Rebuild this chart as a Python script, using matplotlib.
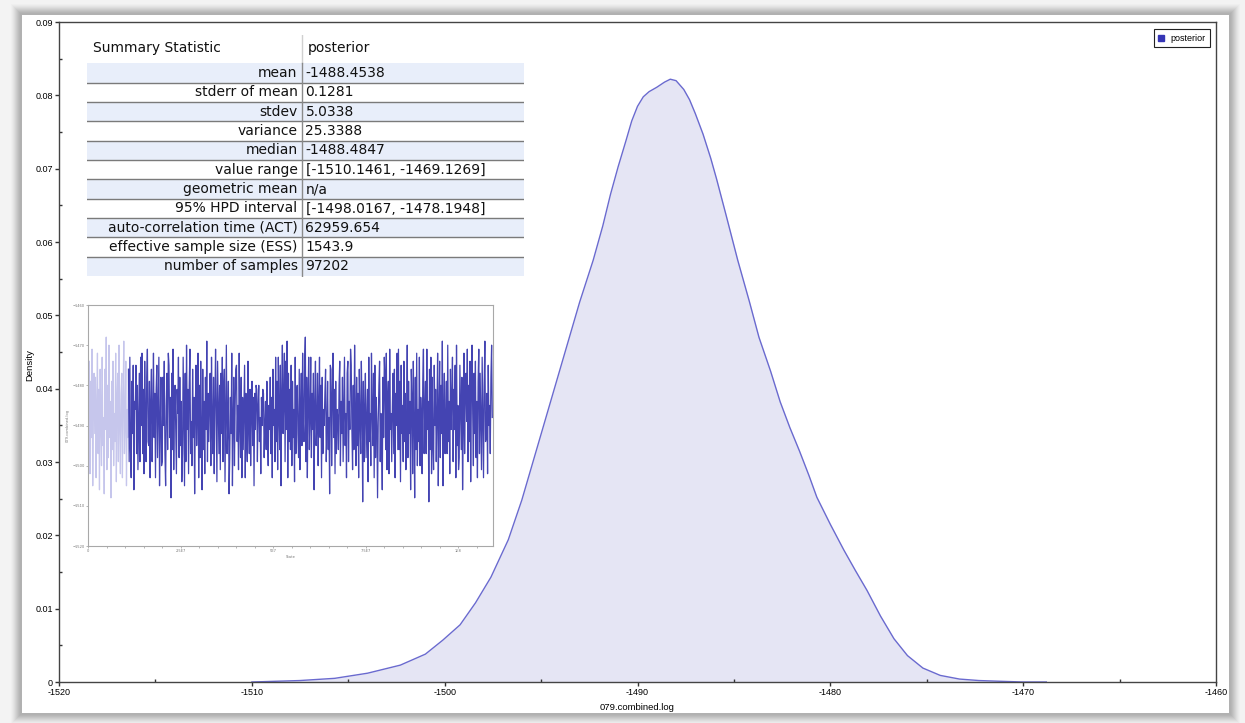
import numpy as np
import matplotlib
matplotlib.use("Agg")
import matplotlib.pyplot as plt
from matplotlib.patches import Rectangle
from matplotlib.ticker import MultipleLocator, FuncFormatter

W, H = 1245, 723

# Kernel density of the posterior (value, density)
density_x = [-1510.0, -1507.5, -1505.7, -1504.0, -1502.3, -1501.0, -1500.1, -1499.2,
             -1498.4, -1497.6, -1496.7, -1496.0, -1495.0, -1494.0, -1493.0, -1492.3,
             -1491.8, -1491.4, -1491.0, -1490.6, -1490.3, -1490.0, -1489.7, -1489.4,
             -1489.0, -1488.6, -1488.3, -1488.0, -1487.6, -1487.3, -1487.0, -1486.6,
             -1486.2, -1485.9, -1485.4, -1484.8, -1484.2, -1483.7, -1483.1, -1482.6,
             -1482.1, -1481.6, -1481.1, -1480.7, -1480.0, -1479.3, -1478.7, -1478.1,
             -1477.4, -1476.7, -1476.0, -1475.2, -1474.3, -1473.3, -1472.3, -1471.2,
             -1470.0, -1468.8]
density_y = [0.0000, 0.0002, 0.0005, 0.0012, 0.0023, 0.0038, 0.0057, 0.0078,
             0.0108, 0.0143, 0.0194, 0.0248, 0.0338, 0.0428, 0.0518, 0.0575,
             0.0622, 0.0665, 0.0703, 0.0738, 0.0765, 0.0785, 0.0798, 0.0805,
             0.0811, 0.0818, 0.0822, 0.0820, 0.0808, 0.0794, 0.0775, 0.0747,
             0.0714, 0.0686, 0.0636, 0.0575, 0.0519, 0.0470, 0.0424, 0.0382,
             0.0347, 0.0315, 0.0281, 0.0252, 0.0215, 0.0180, 0.0152, 0.0125,
             0.0090, 0.0059, 0.0036, 0.0019, 0.0009, 0.0004, 0.0002, 0.0001,
             0.0000, 0.0000]

# Summary statistics table
stat_names = ["mean", "stderr of mean", "stdev", "variance", "median", "value range",
              "geometric mean", "95% HPD interval", "auto-correlation time (ACT)",
              "effective sample size (ESS)", "number of samples"]
stat_values = ["-1488.4538", "0.1281", "5.0338", "25.3388", "-1488.4847",
               "[-1510.1461, -1469.1269]", "n/a", "[-1498.0167, -1478.1948]",
               "62959.654", "1543.9", "97202"]

# Trace of the log posterior: burn-in samples, then the retained chain
burnin_values = [
    -1483, -1499, -1474, -1502, -1479, -1493, -1471, -1505, -1486, -1477,
    -1492, -1478, -1503, -1485, -1472, -1497, -1481, -1506, -1476, -1489,
    -1500, -1473, -1495, -1488, -1507, -1476, -1491, -1468, -1501, -1480,
    -1498, -1470, -1493, -1484, -1508, -1479, -1496, -1474, -1500, -1487,
    -1494, -1472, -1504, -1483, -1477, -1499, -1470, -1490, -1502, -1482,
    -1477, -1503, -1484, -1469, -1497, -1489, -1474, -1505, -1486, -1493]
trace_values = [
    -1476, -1499, -1473, -1496, -1503, -1479, -1492, -1475, -1506, -1484,
    -1486, -1475, -1497, -1480, -1501, -1489, -1477, -1499, -1473, -1490,
    -1472, -1497, -1481, -1502, -1474, -1488, -1499, -1478, -1471, -1494,
    -1495, -1479, -1503, -1484, -1476, -1499, -1487, -1472, -1493, -1482,
    -1503, -1481, -1475, -1498, -1486, -1473, -1505, -1490, -1478, -1500,
    -1499, -1478, -1490, -1474, -1497, -1505, -1485, -1477, -1496, -1472,
    -1475, -1493, -1483, -1508, -1477, -1496, -1471, -1501, -1485, -1480,
    -1491, -1502, -1481, -1487, -1473, -1498, -1478, -1495, -1484, -1504,
    -1497, -1473, -1489, -1505, -1477, -1499, -1470, -1491, -1481, -1502,
    -1480, -1471, -1497, -1489, -1500, -1476, -1493, -1483, -1507, -1487,
    -1475, -1495, -1486, -1472, -1503, -1480, -1498, -1474, -1493, -1506,
    -1476, -1496, -1484, -1502, -1478, -1491, -1469, -1499, -1482, -1494,
    -1483, -1477, -1500, -1473, -1489, -1497, -1478, -1502, -1485, -1471,
    -1488, -1504, -1474, -1486, -1497, -1480, -1501, -1477, -1492, -1473,
    -1499, -1481, -1476, -1504, -1488, -1470, -1497, -1491, -1479, -1507,
    -1498, -1483, -1492, -1472, -1505, -1489, -1478, -1500, -1485, -1476,
    -1475, -1494, -1485, -1501, -1472, -1490, -1498, -1478, -1503, -1483,
    -1496, -1486, -1475, -1503, -1482, -1492, -1499, -1474, -1490, -1497,
    -1481, -1500, -1487, -1479, -1495, -1483, -1505, -1482, -1491, -1480,
    -1481, -1499, -1485, -1480, -1494, -1488, -1502, -1483, -1490, -1481,
    -1482, -1498, -1490, -1484, -1496, -1479, -1493, -1500, -1485, -1491,
    -1478, -1497, -1483, -1503, -1476, -1490, -1486, -1499, -1473, -1494,
    -1479, -1501, -1473, -1488, -1496, -1475, -1505, -1482, -1470, -1492,
    -1484, -1472, -1499, -1474, -1491, -1469, -1503, -1477, -1494, -1481,
    -1496, -1475, -1500, -1479, -1493, -1486, -1504, -1473, -1497, -1482,
    -1480, -1492, -1498, -1476, -1501, -1486, -1477, -1495, -1472, -1489,
    -1494, -1474, -1468, -1499, -1478, -1503, -1484, -1473, -1496, -1488,
    -1473, -1498, -1482, -1491, -1477, -1506, -1485, -1474, -1495, -1490,
    -1477, -1500, -1484, -1473, -1493, -1480, -1503, -1478, -1497, -1486,
    -1490, -1482, -1476, -1499, -1491, -1479, -1496, -1488, -1507, -1475,
    -1476, -1500, -1483, -1472, -1493, -1481, -1502, -1479, -1497, -1486,
    -1488, -1496, -1480, -1474, -1500, -1484, -1492, -1478, -1499, -1485,
    -1473, -1495, -1487, -1503, -1477, -1474, -1499, -1484, -1491, -1471,
    -1475, -1491, -1501, -1480, -1496, -1470, -1487, -1500, -1478, -1495,
    -1482, -1503, -1476, -1489, -1497, -1474, -1486, -1509, -1479, -1499,
    -1486, -1477, -1498, -1490, -1481, -1504, -1473, -1494, -1487, -1500,
    -1472, -1486, -1495, -1477, -1503, -1475, -1498, -1483, -1490, -1508,
    -1489, -1480, -1474, -1499, -1487, -1494, -1506, -1478, -1493, -1473,
    -1478, -1496, -1472, -1501, -1484, -1479, -1502, -1471, -1491, -1487,
    -1499, -1485, -1477, -1497, -1476, -1503, -1482, -1490, -1472, -1496,
    -1471, -1496, -1479, -1504, -1475, -1492, -1485, -1499, -1474, -1494,
    -1482, -1501, -1488, -1470, -1498, -1479, -1492, -1484, -1506, -1476,
    -1483, -1502, -1474, -1489, -1508, -1478, -1496, -1472, -1500, -1486,
    -1494, -1473, -1500, -1483, -1489, -1502, -1479, -1471, -1497, -1486,
    -1479, -1497, -1471, -1491, -1484, -1509, -1476, -1496, -1473, -1502,
    -1478, -1495, -1501, -1475, -1490, -1481, -1499, -1487, -1472, -1505,
    -1486, -1474, -1498, -1480, -1492, -1469, -1505, -1487, -1477, -1497,
    -1489, -1479, -1497, -1470, -1494, -1484, -1502, -1476, -1491, -1483,
    -1473, -1499, -1481, -1491, -1475, -1503, -1470, -1495, -1485, -1501,
    -1498, -1475, -1486, -1496, -1478, -1506, -1491, -1472, -1497, -1481,
    -1477, -1489, -1471, -1499, -1480, -1494, -1474, -1504, -1483, -1470,
    -1487, -1500, -1477, -1492, -1474, -1498, -1484, -1503, -1479, -1471,
    -1497, -1477, -1490, -1501, -1473, -1487, -1503, -1480, -1469, -1494,
    -1493, -1482, -1502, -1475, -1490, -1485, -1497, -1478, -1470, -1488]
state_step = 1.822e5

trace_xticks = [0, 2.5e7, 5e7, 7.5e7, 1e8]
trace_xticklabels = ["0", "2.5E7", "5E7", "7.5E7", "1E8"]

TICK_FONT = "Liberation Sans"
TABLE_FONT = "DejaVu Sans"

fig = plt.figure(figsize=(W / 100, H / 100), dpi=100)
fig.patch.set_facecolor("#f3f3f3")


def px_rect(x0, y0, x1, y1, **kw):
    return Rectangle((x0 / W, 1 - y1 / H), (x1 - x0) / W, (y1 - y0) / H,
                     transform=fig.transFigure, zorder=-10, **kw)


# window drop shadow and white panel
panel = (22, 15, 1229, 713)
shadow = ["#efefef", "#eaeaea", "#e4e4e4", "#dddddd", "#d5d5d5", "#cdcdcd",
          "#c5c5c5", "#bdbdbd", "#b6b6b6", "#b1b1b1"]
for i, c in enumerate(shadow):
    pad = len(shadow) - i + 1
    fig.patches.append(px_rect(panel[0] - pad, panel[1] - pad, panel[2] + pad,
                               panel[3] + pad, facecolor=c, edgecolor="none"))
fig.patches.append(px_rect(*panel, facecolor="white", edgecolor="none"))

# ---- main density plot ----
ax = fig.add_axes([59 / W, 1 - 682 / H, (1216 - 59) / W, (682 - 22) / H])
ax.set_facecolor("white")
ax.fill_between(density_x, density_y, 0, color="#e5e5f4", lw=0)
ax.plot(density_x, density_y, color="#6a6acf", lw=1.0)
ax.set_xlim(-1520, -1460)
ax.set_ylim(0, 0.09)
ax.xaxis.set_major_locator(MultipleLocator(10))
ax.xaxis.set_minor_locator(MultipleLocator(5))
ax.yaxis.set_major_locator(MultipleLocator(0.01))
ax.yaxis.set_minor_locator(MultipleLocator(0.005))
ax.xaxis.set_major_formatter(FuncFormatter(lambda v, p: f"{v:.0f}"))
ax.yaxis.set_major_formatter(FuncFormatter(lambda v, p: "0" if abs(v) < 1e-9 else f"{v:.2f}"))
ax.tick_params(which="major", direction="out", length=3, width=1, color="#333333",
               labelsize=6.5, pad=1.5)
ax.tick_params(which="minor", direction="in", length=2, width=1, color="#333333")
for lbl in ax.get_xticklabels() + ax.get_yticklabels():
    lbl.set_fontfamily(TICK_FONT)
for s in ax.spines.values():
    s.set_color("#444444")
    s.set_linewidth(1)

fig.text(637 / W, 1 - 707 / H, "079.combined.log", ha="center", va="center",
         fontsize=6.8, family=TICK_FONT)
fig.text(30 / W, 1 - 365 / H, "Density", ha="center", va="center", rotation=90,
         fontsize=6.8, family=TICK_FONT)

leg = ax.legend(handles=[Rectangle((0, 0), 1, 1, color="#3535b5")], labels=["posterior"],
                loc="upper right", bbox_to_anchor=(0.9948, 0.989), borderaxespad=0,
                prop={"family": TICK_FONT, "size": 6.5},
                handlelength=0.65, handleheight=0.65, handletextpad=0.7,
                borderpad=0.5, fancybox=False, framealpha=1, edgecolor="#222222")
leg.get_frame().set_linewidth(0.8)

# ---- summary statistics table ----
tab = fig.add_axes([87 / W, 1 - 277 / H, (524 - 87) / W, (277 - 35) / H])
tab.set_xlim(87, 524)
tab.set_ylim(277, 35)
tab.axis("off")
row_top, row_h = 63.3, 19.35
col_div = 301.5
tab.text(93, 48, "Summary Statistic", ha="left", va="center", fontsize=10.0,
         family=TABLE_FONT, color="#111111")
tab.text(308, 48, "posterior", ha="left", va="center", fontsize=10.0,
         family=TABLE_FONT, color="#111111")
for i, (name, val) in enumerate(zip(stat_names, stat_values)):
    y0 = row_top + i * row_h
    if i % 2 == 0:
        tab.add_patch(Rectangle((87, y0), 437, row_h, facecolor="#e8eefa", edgecolor="none"))
    if i > 0:
        tab.plot([87, 524], [y0, y0], color="#7a7a7a", lw=1)
    tab.text(col_div - 4, y0 + row_h / 2, name, ha="right", va="center", fontsize=10.0,
             family=TABLE_FONT, color="#111111")
    tab.text(col_div + 4, y0 + row_h / 2, val, ha="left", va="center", fontsize=10.0,
             family=TABLE_FONT, color="#111111")
tab.plot([col_div, col_div], [35, row_top], color="#d0d0d0", lw=1)
tab.plot([col_div, col_div], [row_top, row_top + 11 * row_h], color="#8a8a8a", lw=1)

# ---- trace inset ----
ins = fig.add_axes([88 / W, 1 - 546 / H, 405 / W, 241 / H])
ins.set_facecolor("white")
nb = len(burnin_values)
burn_states = np.arange(nb + 1) * state_step
ins.plot(burn_states, burnin_values + [trace_values[0]], color="#c6c6ec", lw=0.9)
main_states = (np.arange(len(trace_values)) + nb) * state_step
ins.plot(main_states, trace_values, color="#3434ac", lw=0.9, alpha=0.92)
ins.set_xlim(0, 1.0933e8)
ins.set_ylim(-1520, -1460)
ins.set_xticks(trace_xticks)
ins.set_xticklabels(trace_xticklabels)
ins.xaxis.set_minor_locator(MultipleLocator(5e6))
ins.set_yticks(np.arange(-1520, -1459, 10))
ins.tick_params(which="both", length=1.5, width=0.5, color="#999999", labelsize=2.6,
                labelcolor="#777777", pad=1)
ins.set_xlabel("State", fontsize=2.6, color="#777777", labelpad=1)
ins.set_ylabel("079.combined.log", fontsize=2.6, color="#777777", labelpad=2)
for s in ins.spines.values():
    s.set_color("#a8a8a8")
    s.set_linewidth(0.8)

fig.savefig("out.png", dpi=100, facecolor=fig.get_facecolor())
